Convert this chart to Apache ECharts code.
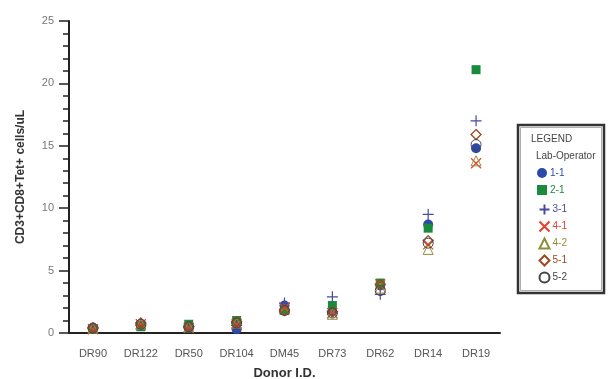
<!DOCTYPE html>
<html>
<head>
<meta charset="utf-8">
<script src="https://cdn.jsdelivr.net/npm/echarts@6/dist/echarts.min.js"></script>
<style>
  html, body { margin: 0; padding: 0; background: #fff; }
  #chart { width: 614px; height: 379px; }
</style>
</head>
<body>
<div id="chart"></div>
<script>
// donors on the x axis
var donors = ['DR90', 'DR122', 'DR50', 'DR104', 'DM45', 'DR73', 'DR62', 'DR14', 'DR19'];

// CD3+CD8+Tet+ cells/uL per lab-operator
var op11 = [0.4, 0.6, 0.4, 0.3, 2.2, 1.7, 3.8, 8.7, 14.8];
var op21 = [0.3, 0.5, 0.7, 1.0, 1.8, 2.2, 4.0, 8.4, 21.1];
var op31 = [0.4, 0.6, 0.5, 0.6, 2.4, 2.9, 3.1, 9.5, 17.0];
var op41 = [0.3, 0.7, 0.4, 0.7, 2.0, 1.6, 3.9, 7.1, 13.6];
var op42 = [0.4, 0.7, 0.5, 0.8, 1.9, 1.5, 3.6, 6.7, 13.8];
var op51 = [0.4, 0.8, 0.5, 0.9, 1.8, 1.7, 3.9, 7.4, 15.9];
var op52 = [0.4, 0.7, 0.5, 0.8, 1.8, 1.6, 3.4, 7.2, 15.1];

var operators = ['1-1', '2-1', '3-1', '4-1', '4-2', '5-1', '5-2'];
var opColors = ['#2b4aa8', '#1a8a3c', '#4a4a9a', '#e8402a', '#8f8f3a', '#9a4a20', '#444'];

var yTicks = [0, 5, 10, 15, 20, 25];

var plusPath = 'path://M5,0L5,10M0,5L10,5';
var crossPath = 'path://M0,0L10,10M10,0L0,10';
var font = 'Liberation Sans, Arial, sans-serif';

function ser(name, data, symbol, size, fill, stroke, bw) {
    return {
        name: name,
        type: 'scatter',
        data: data,
        symbol: symbol,
        symbolSize: size,
        itemStyle: { color: fill, borderColor: stroke, borderWidth: bw, opacity: 1 }
    };
}

// one legend per operator so each row sits at a fixed spacing
var legends = operators.map(function (op, i) {
    return {
        orient: 'vertical',
        left: 537,
        top: 168 + i * 17,
        padding: 0,
        itemWidth: 10,
        itemHeight: 10,
        textStyle: { fontSize: 10, color: opColors[i], padding: [0, 0, 0, -2] },
        data: [op]
    };
});

var myChart = echarts.init(document.getElementById('chart'));
var option = {
    animation: false,
    textStyle: { fontFamily: font },
    grid: { left: 69, right: 114, top: 21, bottom: 46, outerBoundsMode: 'none' },
    xAxis: {
        type: 'category',
        data: donors,
        name: 'Donor I.D.',
        nameLocation: 'middle',
        nameGap: 34,
        nameTextStyle: { fontWeight: 'bold', fontSize: 13, color: '#333' },
        axisLine: { lineStyle: { color: '#222', width: 2 } },
        axisTick: { alignWithLabel: true, length: 10, lineStyle: { color: '#222', width: 1.5 } },
        axisLabel: { color: '#555', fontSize: 11, margin: 15 }
    },
    yAxis: {
        type: 'value',
        min: yTicks[0],
        max: yTicks[yTicks.length - 1],
        interval: 5,
        name: 'CD3+CD8+Tet+ cells/uL',
        nameLocation: 'middle',
        nameGap: 42,
        nameTextStyle: { fontWeight: 'bold', fontSize: 12, color: '#333' },
        axisLine: { show: true, lineStyle: { color: '#222', width: 2 } },
        axisTick: { show: true, length: 10, lineStyle: { color: '#222', width: 1.5 } },
        minorTick: { show: true, splitNumber: 5, length: 6, lineStyle: { color: '#222', width: 1.5 } },
        splitLine: { show: false },
        axisLabel: { color: '#777', fontSize: 11, margin: 15 }
    },
    legend: legends,
    graphic: [
        { type: 'rect', shape: { x: 518, y: 125, width: 86, height: 168 }, style: { fill: '#fff', stroke: '#333', lineWidth: 2.5 }, z: -1 },
        { type: 'rect', shape: { x: 520.5, y: 127.5, width: 81, height: 163 }, style: { fill: 'none', stroke: '#999', lineWidth: 0.8 }, z: -1 },
        { type: 'text', left: 531, top: 134, style: { text: 'LEGEND', fontSize: 10, fill: '#444', fontFamily: font } },
        { type: 'text', left: 536, top: 151, style: { text: 'Lab-Operator', fontSize: 10, fill: '#444', fontFamily: font } }
    ],
    series: [
        ser('1-1', op11, 'circle', 10, opColors[0], opColors[0], 0),
        ser('2-1', op21, 'rect', 9, opColors[1], opColors[1], 0),
        ser('3-1', op31, plusPath, 11, 'none', opColors[2], 1.2),
        ser('4-1', op41, crossPath, 10, 'none', opColors[3], 1.2),
        ser('4-2', op42, 'triangle', 10, 'none', opColors[4], 1),
        ser('5-1', op51, 'diamond', 10, 'none', opColors[5], 1.3),
        ser('5-2', op52, 'circle', 10, 'none', opColors[6], 1)
    ]
};
myChart.setOption(option, true);
</script>
</body>
</html>
